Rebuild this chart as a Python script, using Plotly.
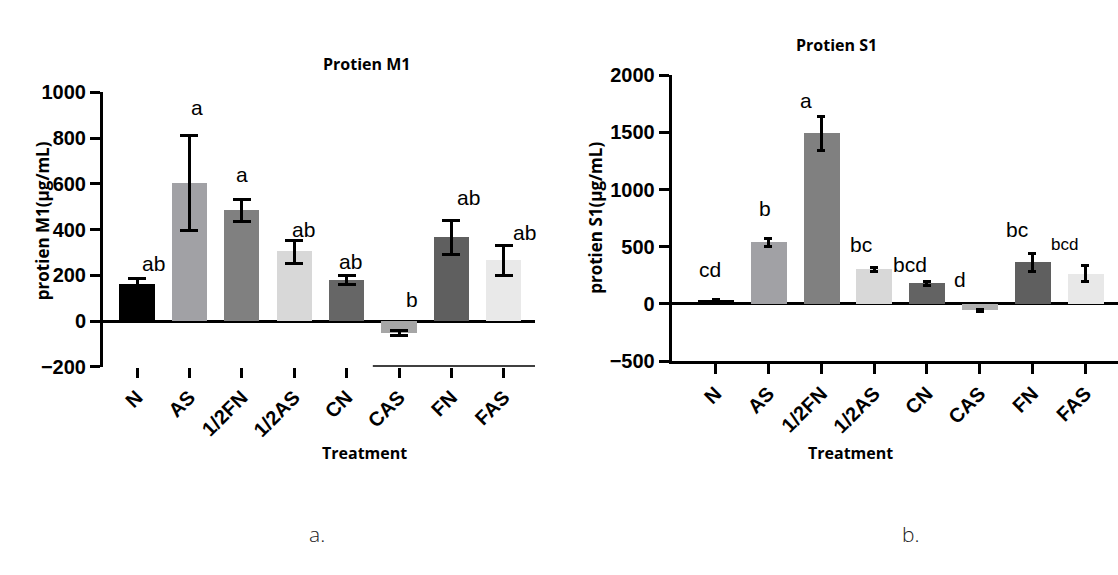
import plotly.graph_objects as go

W, H = 1118, 575

treatments = ["N", "AS", "1/2FN", "1/2AS", "CN", "CAS", "FN", "FAS"]
bar_colors_m1 = ["#000000", "#a1a1a5", "#808080", "#d8d8d8", "#666666", "#a6a6a6", "#5f5f5f", "#e9e9e9"]
bar_colors_s1 = ["#000000", "#a1a1a5", "#808080", "#d8d8d8", "#636363", "#b0b0b0", "#5f5f5f", "#e8e8e8"]

# Protein M1 (µg/mL): means and error bars
m1_mean = [160, 602, 484, 303, 180, -52, 365, 265]
m1_err = [25, 208, 48, 50, 18, 9, 75, 65]
m1_letters = ["ab", "a", "a", "ab", "ab", "b", "ab", "ab"]
m1_letter_y = [215, 897, 602, 362, 223, 55, 505, 349]
m1_letter_dx = [16, 8, 0, 9, 4, 13, 17, 21]

# Protein S1 (µg/mL): means and error bars
s1_mean = [30, 540, 1490, 300, 178, -55, 362, 262]
s1_err = [8, 35, 152, 15, 20, 10, 82, 70]
s1_letters = ["cd", "b", "a", "bc", "bcd", "d", "bc", "bcd"]
s1_letter_y = [227, 756, 1708, 448, 269, 143, 574, 462]
s1_letter_dx = [-6, -3, -15, -13, -17, -20, -15, -21]


def px_x(p):
    return p / W


def px_y(p):
    return 1 - p / H


fig = go.Figure()

fig.add_trace(go.Bar(
    x=treatments, y=m1_mean, marker=dict(color=bar_colors_m1, line=dict(width=0)),
    width=0.67,
    error_y=dict(type="data", array=m1_err, visible=True, color="black", thickness=3, width=9),
    xaxis="x", yaxis="y", showlegend=False,
))
fig.add_trace(go.Bar(
    x=treatments, y=s1_mean, marker=dict(color=bar_colors_s1, line=dict(width=0)),
    width=0.68,
    error_y=dict(type="data", array=s1_err, visible=True, color="black", thickness=3, width=4),
    xaxis="x2", yaxis="y2", showlegend=False,
))

tick_font = dict(family="Arial, Liberation Sans", size=20, color="black", weight="bold")
title_font = dict(family="Open Sans", size=16, color="black", weight="bold")

axis_common = dict(
    ticks="outside", ticklen=10, tickwidth=3, tickcolor="black",
    showgrid=False, tickfont=tick_font, fixedrange=True,
)

fig.update_layout(
    width=W, height=H,
    margin=dict(l=0, r=0, t=0, b=0),
    paper_bgcolor="white", plot_bgcolor="white",
    bargap=0,
    xaxis=dict(
        domain=[px_x(103), px_x(535)], type="category", range=[-0.649, 7.595],
        anchor="y", showline=False, tickangle=-45, **axis_common,
    ),
    yaxis=dict(
        domain=[px_y(370), px_y(84.5)], range=[-200, 1000], tickvals=[-200, 0, 200, 400, 600, 800, 1000],
        anchor="x", showline=True, linewidth=3, linecolor="black",
        zeroline=True, zerolinewidth=3, zerolinecolor="black", **axis_common,
    ),
    xaxis2=dict(
        domain=[px_x(671.7), 1.0], type="category", range=[-0.833, 7.62],
        anchor="y2", showline=True, linewidth=3, linecolor="black", tickangle=-45, **axis_common,
    ),
    yaxis2=dict(
        domain=[px_y(364), px_y(66.7)], range=[-500, 2000], tickvals=[-500, 0, 500, 1000, 1500, 2000],
        anchor="x2", showline=True, linewidth=3, linecolor="black",
        zeroline=True, zerolinewidth=3, zerolinecolor="black", **axis_common,
    ),
)

# short baseline segment under the right-hand bars of the M1 panel
fig.add_shape(type="line", xref="x", yref="y", x0=4.5, x1=7.595, y0=-200, y1=-200,
              line=dict(color="black", width=3))

annotations = []
for cat, lab, ly, dx in zip(treatments, m1_letters, m1_letter_y, m1_letter_dx):
    annotations.append(dict(x=cat, y=ly, xref="x", yref="y", text=lab, showarrow=False,
                            xshift=dx, yshift=-5, yanchor="bottom",
                            font=dict(family="Arial, Liberation Sans", size=21, color="black")))
for cat, lab, ly, dx in zip(treatments, s1_letters, s1_letter_y, s1_letter_dx):
    size = 17 if (lab == "bcd" and cat == "FAS") else 21
    annotations.append(dict(x=cat, y=ly, xref="x2", yref="y2", text=lab, showarrow=False,
                            xshift=dx, yshift=-5, yanchor="bottom",
                            font=dict(family="Arial, Liberation Sans", size=size, color="black")))

# panel titles
annotations += [
    dict(x=px_x(321), y=px_y(42), xref="paper", yref="paper", text="Protien M1", showarrow=False,
         font=title_font),
    dict(x=px_x(879), y=px_y(22), xref="paper", yref="paper", text="Protien S1", showarrow=False,
         font=title_font),
    dict(x=px_x(29), y=px_y(218), xref="paper", yref="paper", text="protien M1(μg/mL)", showarrow=False,
         textangle=-90, font=dict(family="Open Sans", size=17, color="black", weight="bold")),
    dict(x=px_x(596), y=px_y(215), xref="paper", yref="paper", text="protien S1(μg/mL)", showarrow=False,
         textangle=-90, font=dict(family="Open Sans", size=17, color="black", weight="bold")),
    dict(x=px_x(320), y=px_y(473), xref="paper", yref="paper", text="Treatment", showarrow=False,
         font=title_font),
    dict(x=px_x(895), y=px_y(473), xref="paper", yref="paper", text="Treatment", showarrow=False,
         font=title_font),
    dict(x=px_x(307), y=px_y(560), xref="paper", yref="paper", text="a.", showarrow=False,
         font=dict(family="Open Sans", size=21, color="#222222", weight=300)),
    dict(x=px_x(922), y=px_y(560), xref="paper", yref="paper", text="b.", showarrow=False,
         font=dict(family="Open Sans", size=21, color="#222222", weight=300)),
]
fig.update_layout(annotations=annotations)

fig.write_html("out.html", config=dict(displayModeBar=False))
